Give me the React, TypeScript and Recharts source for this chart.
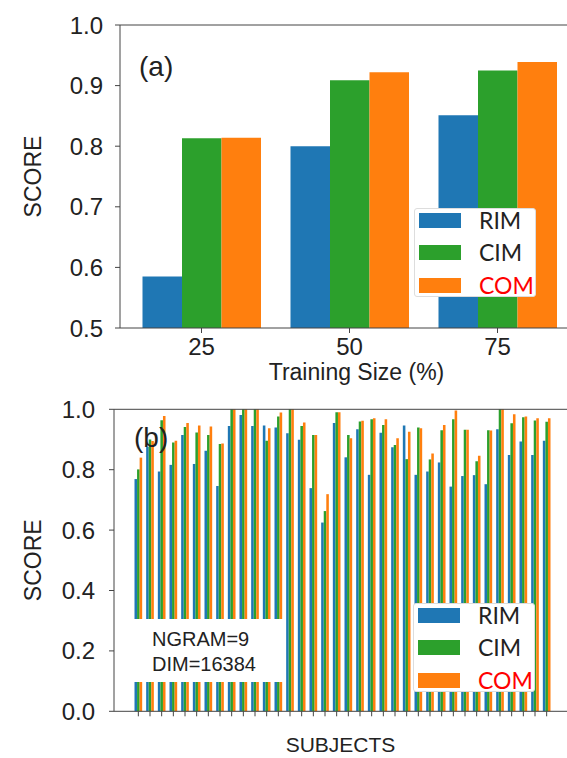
import React from 'react';
import { BarChart, Bar, XAxis, YAxis, Legend, ReferenceLine, Label } from 'recharts';

// panel (a): score vs training size
const sizeLabels = ['25', '50', '75'];
const rimBySize = [0.585, 0.8, 0.851];
const cimBySize = [0.813, 0.909, 0.925];
const comBySize = [0.814, 0.922, 0.939];

// panel (b): score per subject (36 subjects)
const rimBySubject = [
  0.769, 0.875, 0.794, 0.816, 0.915, 0.819, 0.863, 0.746, 0.945, 0.981, 0.945, 0.946,
  0.94, 0.921, 0.899, 0.739, 0.625, 0.955, 0.841, 0.934, 0.783, 0.922, 0.874, 0.946,
  0.783, 0.794, 0.824, 0.744, 0.779, 0.782, 0.752, 0.934, 0.849, 0.893, 0.849, 0.896,
];
const cimBySubject = [
  0.801, 0.9, 0.964, 0.89, 0.941, 0.923, 0.915, 0.885, 1.0, 1.0, 1.0, 0.896,
  0.976, 1.0, 0.945, 0.915, 0.663, 0.99, 0.915, 0.96, 0.967, 0.948, 0.882, 0.835,
  0.94, 0.834, 0.931, 0.967, 0.932, 0.828, 0.931, 1.0, 0.954, 0.974, 0.963, 0.959,
];
const comBySubject = [
  0.84, 0.895, 0.978, 0.896, 0.955, 0.946, 0.943, 0.887, 1.0, 1.0, 1.0, 0.937,
  0.989, 1.0, 0.956, 0.915, 0.719, 0.99, 0.904, 0.962, 0.97, 0.967, 0.904, 0.926,
  0.937, 0.854, 0.948, 0.996, 0.932, 0.846, 0.93, 1.0, 0.984, 0.976, 0.97, 0.97,
];

const seriesNames = ['RIM', 'CIM', 'COM'];
const seriesColors = ['#1f77b4', '#2ca02c', '#ff7f0e'];

const sizeData = sizeLabels.map((s, i) => ({ size: s, RIM: rimBySize[i], CIM: cimBySize[i], COM: comBySize[i] }));
const subjectData = rimBySubject.map((v, i) => ({
  subject: `S${i + 1}`, RIM: v, CIM: cimBySubject[i], COM: comBySubject[i],
}));

const FONT = '"Liberation Sans", Arial, sans-serif';
const AXIS = '#444';

const LegendBox = ({ payload }: any) => {
  // keep the plotting order RIM, CIM, COM
  const items = [...(payload || [])].sort((a: any, b: any) => seriesNames.indexOf(a.value) - seriesNames.indexOf(b.value));
  return (
    <div style={{ position: 'relative', width: 122, height: 89, background: '#fff', border: '1px solid #ddd', borderRadius: 3, boxSizing: 'border-box' }}>
      {items.map((p: any, i: number) => (
        <div key={p.value} style={{ position: 'absolute', left: 4, top: 4 + i * 32.3, height: 15, display: 'flex', alignItems: 'center' }}>
          <span style={{ display: 'inline-block', width: 42, height: 15, background: p.color }} />
          <span style={{ marginLeft: 18, fontFamily: 'Lato, sans-serif', fontSize: 23, lineHeight: 1, color: p.value === 'COM' ? '#ff0000' : '#222' }}>
            {p.value}
          </span>
        </div>
      ))}
    </div>
  );
};

const noTick = () => <g />;

export default function App() {
  return (
    <div style={{ position: 'absolute', left: 0, top: 0, width: 567, height: 758, overflow: 'hidden', background: '#fff', fontFamily: FONT }}>
      <div style={{ position: 'absolute', left: 0, top: 0 }}>
        <BarChart width={600} height={390} data={sizeData} margin={{ top: 25, right: 21, bottom: 0, left: 0 }} barGap={0} barCategoryGap="10%">
          <XAxis dataKey="size" padding={{ left: 7.5, right: 7.5 }} height={62} tickSize={5} tickMargin={5}
            stroke={AXIS} tick={{ fontSize: 24, fill: '#222', fontFamily: FONT }}>
            <Label value="Training Size (%)" position="insideBottom" offset={10} dx={7} style={{ fontSize: 23, fill: '#222', fontFamily: FONT }} />
          </XAxis>
          <YAxis width={120} domain={[0.5, 1]} ticks={[0.5, 0.6, 0.7, 0.8, 0.9, 1.0]} allowDataOverflow
            tickFormatter={(v: number) => v.toFixed(1)} tickSize={5} tickMargin={12} stroke={AXIS}
            tick={{ fontSize: 24, fill: '#222', fontFamily: FONT }}>
            <Label value="SCORE" angle={-90} position="center" dx={-27} style={{ fontSize: 23, fill: '#222', fontFamily: FONT }} />
          </YAxis>
          <ReferenceLine y={1} stroke={AXIS} />
          {seriesNames.map((n, i) => (
            <Bar key={n} dataKey={n} name={n} fill={seriesColors[i]} barSize={39.5} isAnimationActive={false} />
          ))}
          <Legend layout="vertical" align="center" verticalAlign="middle" content={LegendBox}
            wrapperStyle={{ left: 414, top: 208, width: 122, height: 89 }} />
        </BarChart>
      </div>
      <div style={{ position: 'absolute', left: 0, top: 384 }}>
        <BarChart width={600} height={374} data={subjectData} margin={{ top: 25.3, right: 29, bottom: 0, left: 0 }} barGap={0}>
          <XAxis dataKey="subject" padding={{ left: 18.5, right: 18.5 }} height={46.7} tickSize={5} interval={0}
            stroke={AXIS} tick={noTick}>
            <Label value="SUBJECTS" position="insideBottom" offset={6} dx={-2} style={{ fontSize: 21, fill: '#222', fontFamily: FONT }} />
          </XAxis>
          <YAxis width={114} domain={[0, 1]} ticks={[0, 0.2, 0.4, 0.6, 0.8, 1.0]}
            tickFormatter={(v: number) => v.toFixed(1)} tickSize={5} tickMargin={14} stroke={AXIS}
            tick={{ fontSize: 24, fill: '#222', fontFamily: FONT }}>
            <Label value="SCORE" angle={-90} position="center" dx={-24} style={{ fontSize: 23, fill: '#222', fontFamily: FONT }} />
          </YAxis>
          <ReferenceLine y={1} stroke={AXIS} />
          {seriesNames.map((n, i) => (
            <Bar key={n} dataKey={n} name={n} fill={seriesColors[i]} barSize={2.56} isAnimationActive={false} />
          ))}
          <Legend layout="vertical" align="center" verticalAlign="middle" content={LegendBox}
            wrapperStyle={{ left: 413, top: 219, width: 122, height: 89 }} />
        </BarChart>
      </div>
      <svg width={567} height={758} style={{ position: 'absolute', left: 0, top: 0, pointerEvents: 'none' }}>
        <text x={139} y={76} fontSize={28} fill="#222" fontFamily={FONT}>(a)</text>
        <text x={134} y={447} fontSize={28} fill="#222" fontFamily={FONT}>(b)</text>
        <rect x={134} y={619} width={149} height={63} fill="#fff" />
        <text x={152} y={646} fontSize={20} fill="#222" fontFamily={FONT}>NGRAM=9</text>
        <text x={152} y={671} fontSize={20} fill="#222" fontFamily={FONT}>DIM=16384</text>
      </svg>
    </div>
  );
}
